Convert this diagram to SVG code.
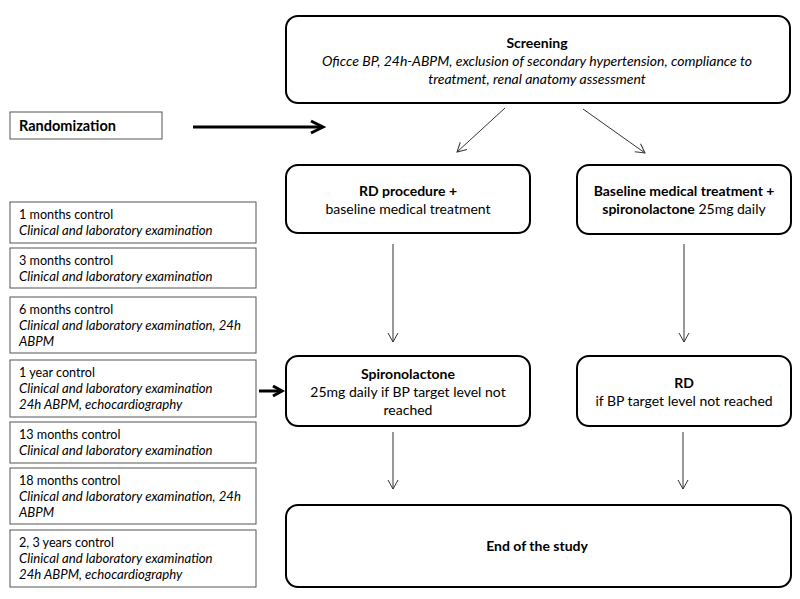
<svg xmlns="http://www.w3.org/2000/svg" width="800" height="599" viewBox="0 0 800 599">
<defs>
<style>
text{font-family:Lato,"Noto Sans","Liberation Sans",sans-serif;fill:#000}
.c{text-anchor:middle;font-size:14px}
.b{font-weight:bold}
.i{font-style:italic}
.l{font-size:12.6px}
.l.i{font-size:13.2px}
.main{fill:#fff;stroke:#000;stroke-width:2}
.side{fill:#fff;stroke:#555;stroke-width:1}
.thin{stroke:#333;stroke-width:1;fill:none}
.thick{stroke:#000;stroke-width:3;fill:none}
</style>
<marker id="ah" markerWidth="12" markerHeight="12" refX="10" refY="6" orient="auto" markerUnits="userSpaceOnUse">
<path d="M1,1 L10,6 L1,11" fill="none" stroke="#333" stroke-width="1"/>
</marker>
<marker id="ahb" markerWidth="20" markerHeight="20" refX="15" refY="8" orient="auto" markerUnits="userSpaceOnUse">
<path d="M3,2 L15,8 L3,14" fill="none" stroke="#000" stroke-width="3"/>
</marker>
<marker id="ahs" markerWidth="16" markerHeight="16" refX="12" refY="6" orient="auto" markerUnits="userSpaceOnUse">
<path d="M3,1 L12,6 L3,11" fill="none" stroke="#000" stroke-width="3"/>
</marker>
</defs>

<g id="screening">
<rect class="main" x="286" y="16" width="504" height="87" rx="12"/>
<text class="c b" x="537" y="48">Screening</text>
<text class="c i" x="537" y="66">Oficce BP, 24h-ABPM, exclusion of secondary hypertension, compliance to</text>
<text class="c i" x="537" y="84">treatment, renal anatomy assessment</text>
</g>

<g id="randomization">
<rect class="side" x="10" y="112" width="152" height="27"/>
<text class="b" x="19" y="131" font-size="14.5">Randomization</text>
</g>

<g id="rd-procedure">
<rect class="main" x="286" y="165" width="244" height="68" rx="12"/>
<text class="c b" x="408" y="196">RD procedure +</text>
<text class="c" x="408" y="214">baseline medical treatment</text>
</g>

<g id="baseline-treatment">
<rect class="main" x="577" y="165" width="214" height="69" rx="12"/>
<text class="c b" x="684" y="196">Baseline medical treatment +</text>
<text class="c" x="684" y="214"><tspan class="b">spironolactone</tspan> 25mg daily</text>
</g>

<g id="spironolactone">
<rect class="main" x="286" y="356" width="244" height="70" rx="12"/>
<text class="c b" x="408" y="379">Spironolactone</text>
<text class="c" x="408" y="397">25mg daily if BP target level not</text>
<text class="c" x="408" y="415">reached</text>
</g>

<g id="rd">
<rect class="main" x="577" y="356" width="214" height="70" rx="12"/>
<text class="c b" x="684" y="388">RD</text>
<text class="c" x="684" y="406">if BP target level not reached</text>
</g>

<g id="end">
<rect class="main" x="286" y="505" width="505" height="82" rx="12"/>
<text class="c b" x="537" y="551">End of the study</text>
</g>

<g id="c1">
<rect class="side" x="10" y="202" width="246" height="41"/>
<text class="l" x="19" y="219">1 months control</text>
<text class="l i" x="19" y="235">Clinical  and laboratory examination</text>
</g>
<g id="c3">
<rect class="side" x="10" y="248" width="246" height="40"/>
<text class="l" x="19" y="265">3 months control</text>
<text class="l i" x="19" y="281">Clinical  and laboratory examination</text>
</g>
<g id="c6">
<rect class="side" x="10" y="297" width="246" height="56"/>
<text class="l" x="19" y="314">6 months control</text>
<text class="l i" x="19" y="330">Clinical and laboratory examination, 24h</text>
<text class="l i" x="19" y="346">ABPM</text>
</g>
<g id="c12">
<rect class="side" x="10" y="360" width="246" height="57"/>
<text class="l" x="19" y="377">1 year control</text>
<text class="l i" x="19" y="393">Clinical and laboratory examination</text>
<text class="l i" x="19" y="409">24h ABPM, echocardiography</text>
</g>
<g id="c13">
<rect class="side" x="10" y="422" width="246" height="41"/>
<text class="l" x="19" y="439">13 months control</text>
<text class="l i" x="19" y="455">Clinical  and laboratory examination</text>
</g>
<g id="c18">
<rect class="side" x="10" y="468" width="246" height="56"/>
<text class="l" x="19" y="485">18 months control</text>
<text class="l i" x="19" y="501">Clinical and laboratory examination, 24h</text>
<text class="l i" x="19" y="517">ABPM</text>
</g>
<g id="c24">
<rect class="side" x="10" y="530" width="246" height="57"/>
<text class="l" x="19" y="547">2, 3 years control</text>
<text class="l i" x="19" y="563">Clinical  and laboratory examination</text>
<text class="l i" x="19" y="579">24h ABPM, echocardiography</text>
</g>

<g id="connectors">
<line class="thick" x1="193" y1="127" x2="323" y2="127" marker-end="url(#ahb)"/>
<line class="thin" x1="505" y1="108" x2="457" y2="152" marker-end="url(#ah)"/>
<line class="thin" x1="583" y1="109" x2="645" y2="153" marker-end="url(#ah)"/>
<line class="thin" x1="393" y1="244" x2="393" y2="342" marker-end="url(#ah)"/>
<line class="thin" x1="684" y1="244" x2="684" y2="342" marker-end="url(#ah)"/>
<line class="thin" x1="393" y1="432" x2="393" y2="489" marker-end="url(#ah)"/>
<line class="thin" x1="683" y1="432" x2="683" y2="489" marker-end="url(#ah)"/>
<line class="thick" x1="259" y1="391" x2="282" y2="391" marker-end="url(#ahs)"/>
</g>
</svg>
